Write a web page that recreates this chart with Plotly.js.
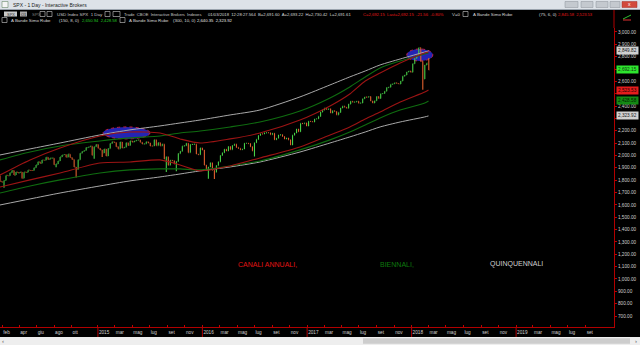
<!DOCTYPE html>
<html><head><meta charset="utf-8">
<script src="https://cdn.plot.ly/plotly-3.0.1.min.js"></script>
<style>html,body{margin:0;padding:0;background:#000;overflow:hidden}#chart{width:640px;height:345px}</style>
</head><body><div id="chart"></div>
<script>
// ---- weekly SPX closes (Friday of each week), starting week of 2014-01-24 ----
const firstWeek = '2014-01-24';
const firstOpen = 1838.7;
const close2014 = [1790.29,1782.59,1797.02,1838.63,1836.25,1859.45,1878.04,1841.13,1866.52,1857.62,1865.09,1815.69,1864.85,1863.40,1881.14,1878.48,1877.86,1900.53,1923.57,1949.44,1936.16,1962.87,1960.96,1985.44,1967.57,1978.22,1978.34,1925.15,1931.59,1955.06,1988.40,2003.37,2007.71,1985.54,2010.40,1982.85,1967.90,1906.13,1886.76,1964.58,2018.05,2031.92,2039.82,2063.50,2067.56,2075.37,2002.33,2070.65,2088.77];
const close2015 = [2058.20,2044.81,2019.42,2051.82,1994.99,2055.47,2096.99,2110.30,2104.50,2071.26,2053.40,2108.10,2061.02,2066.96,2102.06,2081.18,2117.69,2108.29,2116.10,2122.73,2126.06,2107.39,2092.83,2094.11,2109.99,2101.49,2076.78,2076.62,2126.64,2079.65,2103.84,2077.57,2091.54,1970.89,1988.87,1921.22,1961.05,1958.03,1931.34,1951.36,2014.89,2033.11,2075.15,2079.36,2099.20,2023.04,2089.17,2090.11,2091.69,2012.37,2005.55,2060.99];
const close2016 = [2043.94,1922.03,1880.33,1906.90,1940.24,1880.05,1864.78,1917.78,1948.05,1999.99,2022.19,2049.58,2035.94,2072.78,2047.60,2080.73,2091.58,2065.30,2057.14,2046.61,2052.32,2099.06,2099.13,2096.07,2071.22,2037.41,2102.95,2129.90,2161.74,2175.03,2173.60,2182.87,2184.05,2183.87,2169.04,2179.98,2127.81,2139.16,2164.69,2168.27,2153.74,2132.98,2141.16,2126.41,2085.18,2164.45,2181.90,2213.35,2191.95,2259.53,2258.07,2263.79,2238.83];
const close2017 = [2276.98,2274.64,2271.31,2294.69,2297.42,2316.10,2351.16,2367.34,2383.12,2372.60,2378.25,2343.98,2362.72,2355.54,2328.95,2348.69,2384.20,2399.29,2390.90,2381.73,2415.82,2439.07,2431.77,2433.15,2438.30,2423.41,2425.18,2459.27,2472.54,2472.10,2476.83,2441.32,2425.55,2443.05,2476.55,2461.43,2500.23,2502.22,2519.36,2549.33,2553.17,2575.21,2581.07,2587.84,2582.30,2578.85,2602.42,2642.22,2651.50,2675.81,2683.34,2673.61];
const close2018 = [2743.15,2786.24,2810.30,2872.87,2762.13,2619.55,2732.22,2747.30,2692.15];
// notable intraweek extremes
const wickDates = ['2014-02-07','2014-04-11','2014-08-08','2014-10-17','2014-12-19','2015-01-16','2015-08-28','2015-10-02','2016-01-22','2016-02-12','2016-07-01','2016-11-04','2018-02-09'];
const wickLows  = [1737.9,1814.4,1904.8,1820.7,1972.6,1988.1,1867.0,1871.9,1812.3,1810.1,1991.7,2083.8,2532.7];
const peakDates = ['2018-01-26','2018-02-02','2018-03-02'];
const peakHighs = [2872.9,2870.6,2789.1];

// ---- "A Bande Simo Rube" channel lines, sampled along the chart ----
const bandDates  = ['2014-01-24','2014-05-09','2014-08-22','2015-01-08','2015-04-23','2015-08-06','2015-10-15','2015-12-24','2016-04-07','2016-07-20','2016-12-07','2017-03-22','2017-05-30','2017-07-23','2017-09-13','2017-11-22','2018-02-16','2018-03-01'];
const grayUpper  = [2004,2053,2101,2166,2207,2239,2263,2287,2328,2368,2474,2571,2636,2684,2733,2781,2838,2846];
const greenUpper = [1964,2028,2077,2117,2142,2158,2182,2198,2231,2271,2360,2466,2555,2636,2709,2765,2822,2830];
const redUpper   = [1842,1964,2061,2158,2190,2182,2134,2101,2134,2182,2287,2401,2498,2603,2668,2749,2830,2838];
const redLower   = [1745,1802,1858,1939,1947,1964,1923,1875,1915,1980,2069,2166,2231,2296,2352,2433,2514,2530];
const greenLower = [1696,1753,1802,1858,1883,1891,1891,1883,1915,1955,2045,2126,2190,2247,2304,2368,2425,2441];
const grayLower  = [1599,1648,1696,1753,1794,1826,1850,1875,1907,1947,2028,2101,2150,2190,2231,2271,2312,2320];

// ---- axis ticks ----
const xTickDates = ['2014-02-01','2014-04-01','2014-06-01','2014-08-01','2014-10-01','2015-01-01','2015-03-01','2015-05-01','2015-07-01','2015-09-01','2015-11-01','2016-01-01','2016-03-01','2016-05-01','2016-07-01','2016-09-01','2016-11-01','2017-01-01','2017-03-01','2017-05-01','2017-07-01','2017-09-01','2017-11-01','2018-01-01','2018-03-01','2018-05-01','2018-07-01','2018-09-01','2018-11-01','2019-01-01','2019-03-01','2019-05-01','2019-07-01','2019-09-01'];
const xTickLabels = ['feb','apr','giu','ago','ott','2015','mar','mag','lug','set','nov','2016','mar','mag','lug','set','nov','2017','mar','mag','lug','set','nov','2018','mar','mag','lug','set','nov','2019','mar','mag','lug','set'];
const yearStarts = ['2015-01-01','2016-01-01','2017-01-01','2018-01-01','2019-01-01'];
const yTicks = [700,800,900,1000,1100,1200,1300,1400,1500,1600,1700,1800,1900,2000,2100,2200,2300,2400,2500,2600,2700,2800,2900,3000];
const yTicksHidden = [2300,2500,2700]; // covered by the price tags in the reference

// ---- highlighted zones ----
const zoneX0 = ['2015-01-19','2017-12-15'];
const zoneX1 = ['2015-07-02','2018-03-16'];
const zoneY0 = [2134,2765];
const zoneY1 = [2231,2862];

// ---------------- build ----------------
const closes = [].concat(close2014, close2015, close2016, close2017, close2018);
const t0 = Date.parse(firstWeek + 'T00:00:00Z');
const weeks = closes.map((_, i) => new Date(t0 + i * 7 * 86400000).toISOString().slice(0, 10));
const opens = closes.map((c, i) => i === 0 ? firstOpen : closes[i - 1]);
const lows = closes.map((c, i) => { let v = Math.min(c, opens[i]); const k = wickDates.indexOf(weeks[i]); if (k >= 0) v = Math.min(v, wickLows[k]); return v; });
const highs = closes.map((c, i) => { let v = Math.max(c, opens[i]); const k = peakDates.indexOf(weeks[i]); if (k >= 0) v = Math.max(v, peakHighs[k]); return v; });
const fmt = v => v.toLocaleString('en-US', {minimumFractionDigits: 2, maximumFractionDigits: 2});
const yTickText = yTicks.map(v => yTicksHidden.includes(v) ? '' : fmt(v));

const RED = '#9c1414', GREEN = '#0f6c10', GRAY = '#a9a9a9';
function band(y, color, w) {
  return {type: 'scatter', mode: 'lines', x: bandDates, y: y, hoverinfo: 'skip',
          line: {color: color, width: w, shape: 'spline', smoothing: 0.7}};
}
const traces = [
  band(grayUpper, GRAY, 1), band(grayLower, GRAY, 1),
  band(greenUpper, GREEN, 1.1), band(greenLower, GREEN, 1.1),
  band(redUpper, RED, 1.1), band(redLower, RED, 1.1),
  {type: 'ohlc', x: weeks, open: opens, high: highs, low: lows, close: closes,
   increasing: {line: {color: '#48d048', width: 1.1}},
   decreasing: {line: {color: '#e0602e', width: 1.1}},
   tickwidth: 0.25, hoverinfo: 'skip'}
];

// pixel -> paper helpers (plot area: x 0..614, y 28..327)
const PW = 614, PT = 28, PB = 327, PH = PB - PT;
const xp = px => px / PW;
const yp = py => (PB - py) / PH;

const shapes = [];
const ann = [];
const FONT = 'Liberation Sans, Arial, sans-serif';
function rect(x0, y0, x1, y1, fill, line) {
  shapes.push({type: 'rect', xref: 'paper', yref: 'paper', x0: xp(x0), x1: xp(x1), y0: yp(y1), y1: yp(y0),
               fillcolor: fill, line: line || {width: 0}, layer: 'above'});
}
function txt(s, px, py, color, size, anchor) {
  ann.push({xref: 'paper', yref: 'paper', x: xp(px), y: yp(py), text: s, showarrow: false,
            xanchor: anchor || 'left', yanchor: 'middle', borderpad: 0,
            font: {family: FONT, size: size || 4.4, color: color}});
}

// window title bar
rect(0, 0, 640, 9, '#dde2e8');
rect(0, 9, 640, 10, '#9aa3ad');
rect(2, 1.5, 8, 7.5, '#f4f4f4', {color: '#6a8a6a', width: 0.6});
txt('SPX - 1 Day - Interactive Brokers', 12, 4.6, '#222', 5);
rect(565, 1.5, 578, 7.5, '#c4c9cf', {color: '#8a9098', width: 0.5});
rect(581, 1.5, 593, 7.5, '#c4c9cf', {color: '#8a9098', width: 0.5});
rect(596, 1.5, 608, 7.5, '#c4c9cf', {color: '#8a9098', width: 0.5});
rect(610, 1.5, 620, 7.5, '#c4c9cf', {color: '#8a9098', width: 0.5});
rect(622, 1.5, 637, 7.5, '#d24a3c', {color: '#a03028', width: 0.5});
txt('x', 629.5, 4.4, '#fff', 5, 'center');

// header row 1
rect(4, 11.5, 17, 16.5, '#c8c8c8');
txt('SPX', 10.5, 14, '#333', 4, 'center');
rect(20, 11.5, 27, 16.5, '#a8a8a8');
txt('O1', 23.5, 14, '#333', 4, 'center');
txt('SPX', 31, 14, '#7a7a7a');
rect(40, 11.5, 45, 16.5, '#000', {color: '#cfcfcf', width: 0.6});
rect(47, 11.5, 52, 16.5, '#000', {color: '#cfcfcf', width: 0.6});
txt('USD Index SPX  1 Day', 56, 14, '#c8c8c8');
rect(105, 11.5, 110, 16.5, '#000', {color: '#cfcfcf', width: 0.6});
rect(113, 11.5, 120, 16.5, '#000', {color: '#cfcfcf', width: 0.6});
txt('Trade  CBOE  Interactive Brokers  Indexes', 123, 14, '#c8c8c8', 4.1);
txt('01/03/2018  12:28:27.564  B=2,691.60  A=2,693.22  H=2,730.42  L=2,691.61', 207, 14, '#d8d8d8', 4.2);
txt('C=2,692.15  Last=2,692.15  -21.56  -0.80%', 362, 14, '#e01818', 4.2);
txt('V=0', 451, 14, '#d8d8d8');
rect(463, 11.5, 468, 16.5, '#000', {color: '#cfcfcf', width: 0.6});
txt('A Bande Simo Rube', 472, 14, '#d8d8d8');
txt('(75, 6, 0)', 538, 14, '#d8d8d8');
txt('2,845.58  2,523.53', 557, 14, '#e01818', 4.1);
// header row 2
rect(2, 17.5, 7, 22.5, '#000', {color: '#cfcfcf', width: 0.6});
txt('A Bande Simo Rube', 10, 20, '#d8d8d8');
txt('(150, 8, 0)', 58, 20, '#d8d8d8');
txt('2,650.94  2,428.58', 81, 20, '#22c222', 4.2);
rect(120, 17.5, 125, 22.5, '#000', {color: '#cfcfcf', width: 0.6});
txt('A Bande Simo Rube', 128, 20, '#d8d8d8');
txt('(300, 10, 0)', 172, 20, '#d8d8d8');
txt('2,640.35  2,323.92', 196, 20, '#e8e8e8', 4.2);
// small icon top-right
shapes.push({type: 'line', xref: 'paper', yref: 'paper', x0: xp(623), x1: xp(631), y0: yp(19), y1: yp(15), line: {color: '#30c030', width: 1}});
shapes.push({type: 'line', xref: 'paper', yref: 'paper', x0: xp(623), x1: xp(631), y0: yp(20), y1: yp(20), line: {color: '#e03030', width: 1}});

// right vertical red line extension into header
shapes.push({type: 'line', xref: 'paper', yref: 'paper', x0: xp(614), x1: xp(614), y0: yp(10), y1: yp(28), line: {color: '#b00000', width: 1}});
// year separators
yearStarts.forEach(d => shapes.push({type: 'line', xref: 'x', yref: 'paper', x0: d, x1: d, y0: yp(337), y1: 0,
  line: {color: '#b00000', width: 1}}));
// highlighted zones
for (let i = 0; i < zoneX0.length; i++) {
  shapes.push({type: 'circle', xref: 'x', yref: 'y', x0: zoneX0[i], x1: zoneX1[i], y0: zoneY0[i], y1: zoneY1[i],
    fillcolor: '#2424b4', line: {color: '#c0204a', width: 1, dash: 'dot'}, layer: 'below'});
}
// scrollbar
rect(0, 337, 640, 345, '#eeeeee');
rect(363, 338.3, 630, 343.7, '#cdcdcd');
txt('‹', 3, 340.8, '#555', 6, 'center');
txt('›', 636, 340.8, '#555', 6, 'center');

// labels in the chart
txt('CANALI ANNUALI,', 237, 264, '#e01414', 7);
txt('BIENNALI,', 379, 264, '#0e7a0e', 7);
txt('QUINQUENNALI', 489, 264, '#cfcfcf', 7);

// price tags on right axis
function tag(value, label, bg, fg) {
  ann.push({xref: 'paper', yref: 'y', x: xp(616), y: value, text: label, showarrow: false, xanchor: 'left', yanchor: 'middle',
            bgcolor: bg, borderpad: 1, font: {family: FONT, size: 4.7, color: fg}});
}
tag(grayUpper[grayUpper.length - 1], '2,849.82', '#d0d0d0', '#222');
tag(closes[closes.length - 1], '2,692.15', '#2ee62e', '#113311');
tag(redLower[redLower.length - 1], '2,523.53', '#e41c1c', '#220000');
tag(greenLower[greenLower.length - 1], '2,428.58', '#148a14', '#002200');
tag(grayLower[grayLower.length - 1], '2,323.92', '#d0d0d0', '#222');

const layout = {
  width: 640, height: 345,
  margin: {l: 0, r: 26, t: 28, b: 18, pad: 0},
  paper_bgcolor: '#000', plot_bgcolor: '#000',
  showlegend: false,
  font: {family: FONT, size: 4.7, color: '#d0d0d0'},
  xaxis: {type: 'date', range: ['2014-01-24', '2019-12-09'], tickmode: 'array', tickvals: xTickDates, ticktext: xTickLabels,
          tickangle: 0, ticks: 'inside', ticklen: 2, tickcolor: '#c00000', ticklabelposition: 'outside right',
          showgrid: false, zeroline: false, showline: true, linecolor: '#b00000', linewidth: 1,
          tickfont: {size: 4.7, color: '#d0d0d0'}, rangeslider: {visible: false}, fixedrange: true},
  yaxis: {side: 'right', range: [611, 3032], tickmode: 'array', tickvals: yTicks, ticktext: yTickText,
          ticks: 'outside', ticklen: 2, tickcolor: '#c00000', showgrid: false, zeroline: false,
          showline: true, linecolor: '#b00000', linewidth: 1, tickfont: {size: 4.7, color: '#d0d0d0'}, fixedrange: true},
  shapes: shapes, annotations: ann
};
Plotly.newPlot('chart', traces, layout, {staticPlot: true, displayModeBar: false});
</script></body></html>
